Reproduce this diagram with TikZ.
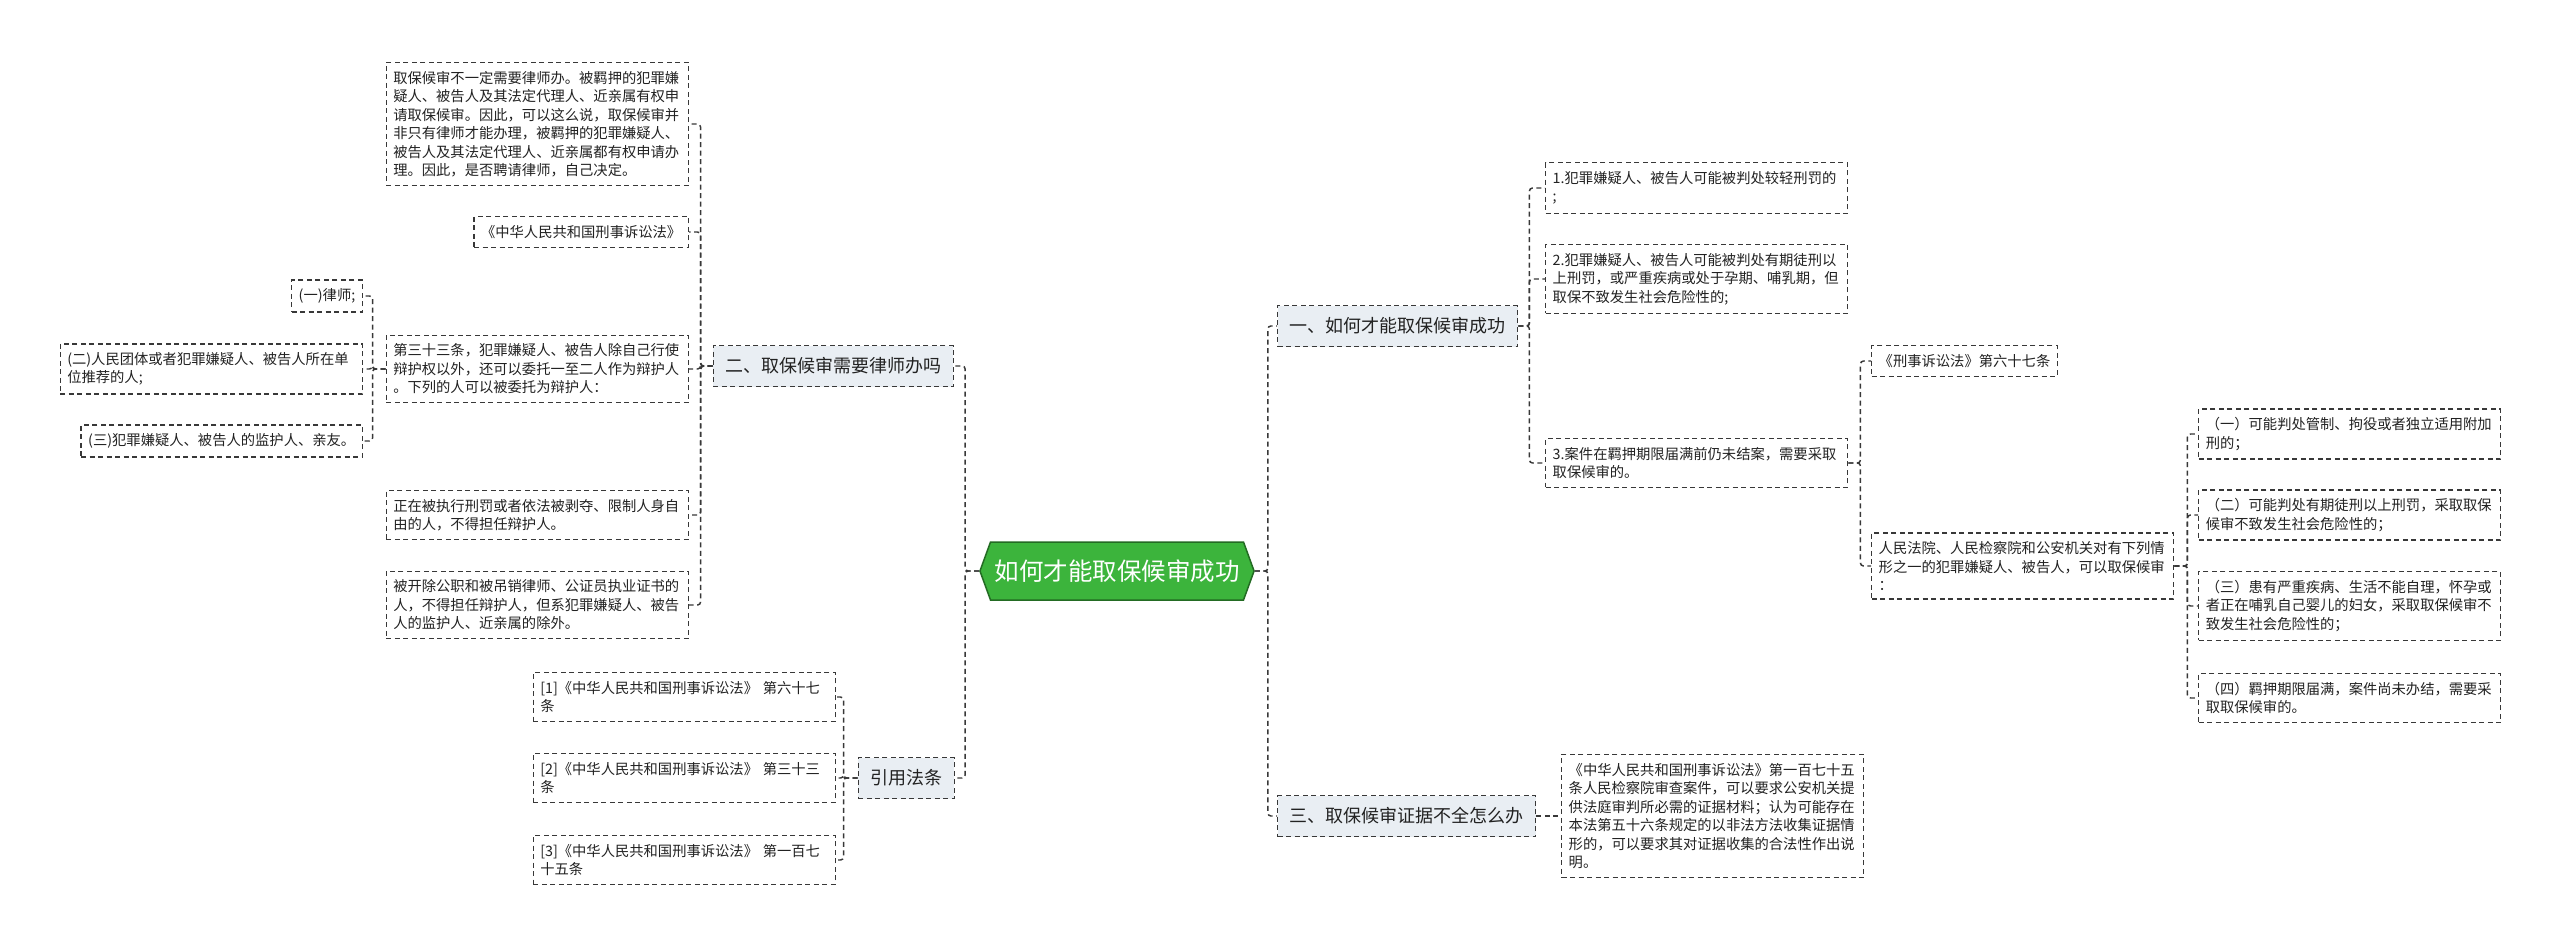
\documentclass[tikz,border=0pt]{standalone}
\usepackage{fontspec}
\setmainfont{Noto Sans CJK SC}
\usetikzlibrary{shapes.symbols}
\definecolor{linec}{HTML}{383838}
\definecolor{lvlfill}{HTML}{E9EEF3}
\definecolor{rootfill}{HTML}{3CB43C}
\definecolor{rootdraw}{HTML}{236B23}
\definecolor{txt}{HTML}{222222}
\tikzset{
 dsh/.style={dash pattern=on 5pt off 3.5pt, line width=1.45pt, draw=linec},
 leaf/.style={dsh, text=txt, align=left, text width=288pt, inner xsep=7pt, inner ysep=8.6pt, font=\fontsize{14.3}{18.5}\selectfont},
 leafn/.style={dsh, text=txt, align=left, inner xsep=7pt, inner ysep=8.6pt, font=\fontsize{14.3}{18.5}\selectfont},
 lvl/.style={dsh, fill=lvlfill, text=txt, inner xsep=12pt, minimum height=41pt, font=\fontsize{18}{22}\selectfont},
 conn/.style={dsh, rounded corners=3pt},
 rootn/.style={signal, signal to=east and west, signal pointer angle=140, fill=rootfill, draw=rootdraw, line width=1.5pt, text=white, minimum width=270pt, minimum height=58pt, inner xsep=4pt, font=\fontsize{24.5}{28}\selectfont}
}
\begin{document}
\begin{tikzpicture}[x=1pt,y=-1pt]
\fill[white] (0,0) rectangle (2560,947);
\useasboundingbox (0,0) rectangle (2560,947);
% root
\node[rootn] (root) at (1117,571) {如何才能取保候审成功};
% level 1
\node[lvl, anchor=east] (N2) at (954,366) {二、取保候审需要律师办吗};
\node[lvl, anchor=east] (NR) at (955,778) {引用法条};
\node[lvl, anchor=west] (N1) at (1277,326) {一、如何才能取保候审成功};
\node[lvl, anchor=west] (N3) at (1277,816) {三、取保候审证据不全怎么办};
% N2 children
\node[leaf, anchor=east] (A) at (689,124) {取保候审不一定需要律师办。被羁押的犯罪嫌\\疑人、被告人及其法定代理人、近亲属有权申\\请取保候审。因此，可以这么说，取保候审并\\非只有律师才能办理，被羁押的犯罪嫌疑人、\\被告人及其法定代理人、近亲属都有权申请办\\理。因此，是否聘请律师，自己决定。};
\node[leafn, anchor=east] (B) at (689,232) {《中华人民共和国刑事诉讼法》};
\node[leaf, anchor=east] (C) at (689,369) {第三十三条，犯罪嫌疑人、被告人除自己行使\\辩护权以外，还可以委托一至二人作为辩护人\\。下列的人可以被委托为辩护人：};
\node[leaf, anchor=east] (D) at (689,515) {正在被执行刑罚或者依法被剥夺、限制人身自\\由的人，不得担任辩护人。};
\node[leaf, anchor=east] (E) at (689,605) {被开除公职和被吊销律师、公证员执业证书的\\人，不得担任辩护人，但系犯罪嫌疑人、被告\\人的监护人、近亲属的除外。};
% C children
\node[leafn, anchor=east] (C1) at (363,296) {(一)律师;};
\node[leaf, anchor=east] (C2) at (363,369) {(二)人民团体或者犯罪嫌疑人、被告人所在单\\位推荐的人;};
\node[leafn, anchor=east] (C3) at (363,441) {(三)犯罪嫌疑人、被告人的监护人、亲友。};
% NR children
\node[leaf, anchor=east] (R1) at (836,697) {[1]《中华人民共和国刑事诉讼法》 第六十七\\条};
\node[leaf, anchor=east] (R2) at (836,778) {[2]《中华人民共和国刑事诉讼法》 第三十三\\条};
\node[leaf, anchor=east] (R3) at (836,860) {[3]《中华人民共和国刑事诉讼法》 第一百七\\十五条};
% N1 children
\node[leaf, anchor=west] (F1) at (1545,188) {1.犯罪嫌疑人、被告人可能被判处较轻刑罚的\\;};
\node[leaf, anchor=west] (F2) at (1545,279) {2.犯罪嫌疑人、被告人可能被判处有期徒刑以\\上刑罚，或严重疾病或处于孕期、哺乳期，但\\取保不致发生社会危险性的;};
\node[leaf, anchor=west] (F3) at (1545,463) {3.案件在羁押期限届满前仍未结案，需要采取\\取保候审的。};
% F3 children
\node[leafn, anchor=west] (G1) at (1871,361) {《刑事诉讼法》第六十七条};
\node[leaf, anchor=west] (G2) at (1871,566) {人民法院、人民检察院和公安机关对有下列情\\形之一的犯罪嫌疑人、被告人，可以取保候审\\：};
% G2 children
\node[leaf, anchor=west] (H1) at (2198,434) {（一）可能判处管制、拘役或者独立适用附加\\刑的；};
\node[leaf, anchor=west] (H2) at (2198,515) {（二）可能判处有期徒刑以上刑罚，采取取保\\候审不致发生社会危险性的；};
\node[leaf, anchor=west] (H3) at (2198,606) {（三）患有严重疾病、生活不能自理，怀孕或\\者正在哺乳自己婴儿的妇女，采取取保候审不\\致发生社会危险性的；};
\node[leaf, anchor=west] (H4) at (2198,698) {（四）羁押期限届满，案件尚未办结，需要采\\取取保候审的。};
% N3 child
\node[leaf, anchor=west] (K) at (1561,816) {《中华人民共和国刑事诉讼法》第一百七十五\\条人民检察院审查案件，可以要求公安机关提\\供法庭审判所必需的证据材料；认为可能存在\\本法第五十六条规定的以非法方法收集证据情\\形的，可以要求其对证据收集的合法性作出说\\明。};
% connectors
\foreach \c in {N2,NR} \draw[conn] (root.west) -- ++(-14,0) |- (\c.east);
\foreach \c in {N1,N3} \draw[conn] (root.east) -- ++(13,0) |- (\c.west);
\foreach \c in {A,B,C,D,E} \draw[conn] (N2.west) -- ++(-12,0) |- (\c.east);
\foreach \c in {C1,C2,C3} \draw[conn] (C.west) -- ++(-13,0) |- (\c.east);
\foreach \c in {R1,R2,R3} \draw[conn] (NR.west) -- ++(-14,0) |- (\c.east);
\foreach \c in {F1,F2,F3} \draw[conn] (N1.east) -- ++(11,0) |- (\c.west);
\foreach \c in {G1,G2} \draw[conn] (F3.east) -- ++(12,0) |- (\c.west);
\foreach \c in {H1,H2,H3,H4} \draw[conn] (G2.east) -- ++(13,0) |- (\c.west);
\draw[conn] (N3.east) -- (K.west);
\end{tikzpicture}
\end{document}
